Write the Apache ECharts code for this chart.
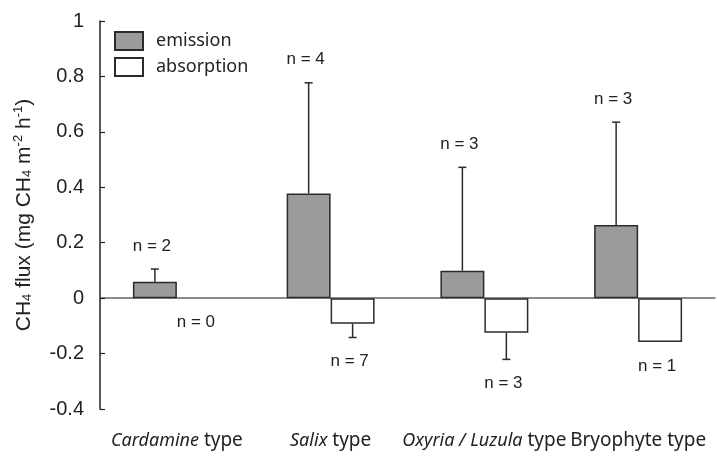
<!DOCTYPE html>
<html>
<head>
<meta charset="utf-8">
<script src="https://cdn.jsdelivr.net/npm/echarts@6/dist/echarts.min.js"></script>
<style>html,body{margin:0;padding:0;background:#fff;}#c{width:717px;height:456px;}</style>
</head>
<body>
<div id="c"></div>
<script>
var categories = ['Cardamine type', 'Salix type', 'Oxyria / Luzula type', 'Bryophyte type'];
var emission = [0.059, 0.378, 0.099, 0.264];
var emissionSD = [0.046, 0.399, 0.373, 0.371];
var emissionN = [2, 4, 3, 3];
var absorption = [null, -0.092, -0.125, -0.158];
var absorptionSD = [0, 0.050, 0.096, 0];
var absorptionN = [0, 7, 3, 1];
var yTicks = [-0.4, -0.2, 0, 0.2, 0.4, 0.6, 0.8, 1];

var labelMap = {
  'Cardamine type': '{i|Cardamine}{n| type}',
  'Salix type': '{i|Salix}{n| type}',
  'Oxyria / Luzula type': '{i|Oxyria / Luzula}{n| type}',
  'Bryophyte type': '{n|Bryophyte type}'
};

var chart = echarts.init(document.getElementById('c'));
var catFont = '"Noto Sans", sans-serif';
var helv = '"Liberation Sans", Arial, sans-serif';
var EDGE = '#2b2b2b';

function errRender(sign, values, sds, ns) {
  return function (params, api) {
    var i = api.value(0);
    var v = values[i] == null ? 0 : values[i];
    var sd = sds[i];
    var bandW = api.size([1, 0])[0];
    var bw = bandW * 0.286;
    var base = api.coord([i, v]);
    var x = base[0] + sign * bw / 2;
    var yBar = base[1];
    var end = api.coord([i, v + (sign < 0 ? sd : -sd)]);
    var yEnd = end[1];
    var children = [];
    if (sd > 0) {
      children.push({type: 'line', shape: {x1: x, y1: yBar, x2: x, y2: yEnd}, style: {stroke: EDGE, lineWidth: 1.5}});
      children.push({type: 'line', shape: {x1: x - 4, y1: yEnd, x2: x + 4, y2: yEnd}, style: {stroke: EDGE, lineWidth: 1.5}});
    }
    var ty = sign < 0 ? yEnd - 23 : yEnd + 24;
    children.push({type: 'text', style: {text: 'n = ' + ns[i], x: x - 3, y: ty, align: 'center', verticalAlign: 'middle', font: '17px "Liberation Sans", Arial, sans-serif', fill: '#222'}});
    return {type: 'group', children: children};
  };
}

var idx = categories.map(function (c, i) { return [i]; });

chart.setOption({
  animation: false,
  backgroundColor: '#fff',
  grid: {left: 100, right: 2, top: 21, bottom: 47},
  legend: {
    orient: 'vertical', left: 109, top: 26, itemWidth: 28, itemHeight: 18, itemGap: 6,
    icon: 'rect',
    textStyle: {fontSize: 18, color: '#222', fontFamily: catFont, padding: [0, 0, 0, 8]},
    data: ['emission', 'absorption']
  },
  xAxis: [{
    type: 'category', data: categories, gridIndex: 0,
    axisLine: {onZero: true, lineStyle: {color: '#666', width: 1.5}},
    axisTick: {inside: true, length: 5, lineStyle: {color: '#444', width: 1.2}},
    axisLabel: {show: false}
  }, {
    type: 'category', data: categories, gridIndex: 0, position: 'bottom',
    axisLine: {show: false}, axisTick: {show: false},
    axisLabel: {
      margin: 22, interval: 0,
      formatter: function (v) { return labelMap[v]; },
      rich: {
        i: {fontStyle: 'italic', fontSize: 18, fontFamily: catFont, color: '#222'},
        n: {fontSize: 19, fontFamily: catFont, color: '#222'}
      }
    }
  }],
  yAxis: {
    type: 'value', min: -0.4, max: 1, interval: 0.2,
    axisLine: {show: true, onZero: false, lineStyle: {color: '#222', width: 1.5}},
    axisTick: {show: true, inside: true, length: 5, lineStyle: {color: '#222', width: 1.2}},
    splitLine: {show: false},
    axisLabel: {
      margin: 16, fontSize: 20, color: '#222', fontFamily: helv,
      formatter: function (v) { var r = Math.round(v * 10) / 10; return String(r); }
    },
    name: '{a|CH}{s|4}{a| flux (mg CH}{s|4}{a| m}{p|-2}{a| h}{p|-1}{a|)}',
    nameLocation: 'middle', nameGap: 64, nameRotate: 90,
    nameTextStyle: {
      rich: {
        a: {fontSize: 21, color: '#222', fontFamily: helv},
        s: {fontSize: 13, color: '#222', fontFamily: helv, padding: [7, 0, 0, 0]},
        p: {fontSize: 13, color: '#222', fontFamily: helv, padding: [0, 0, 11, 0]}
      }
    }
  },
  series: [{
    name: 'emission', type: 'bar', data: emission, barWidth: '28.6%', barGap: '0%',
    itemStyle: {color: '#9b9b9d', borderColor: EDGE, borderWidth: 1.5}, z: 3
  }, {
    name: 'absorption', type: 'bar', data: absorption, barWidth: '28.6%', barGap: '0%',
    itemStyle: {color: '#ffffff', borderColor: EDGE, borderWidth: 1.5}, z: 3
  }, {
    type: 'custom', data: idx, renderItem: errRender(-1, emission, emissionSD, emissionN), z: 4, silent: true
  }, {
    type: 'custom', data: idx, renderItem: errRender(1, absorption, absorptionSD, absorptionN), z: 4, silent: true
  }]
});
</script>
</body>
</html>
